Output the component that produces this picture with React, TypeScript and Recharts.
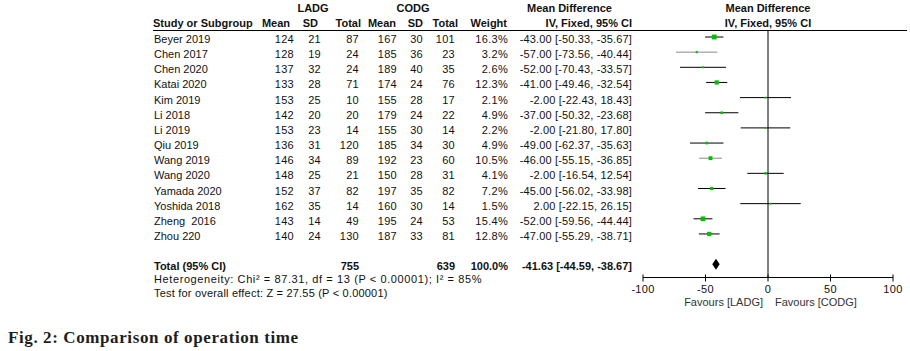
import React from "react";
import { ComposedChart, Scatter, XAxis, YAxis, ReferenceLine, ErrorBar } from "recharts";

// study rows
const studies = [
  "Beyer 2019", "Chen 2017", "Chen 2020", "Katai 2020", "Kim 2019", "Li 2018", "Li 2019",
  "Qiu 2019", "Wang 2019", "Wang 2020", "Yamada 2020", "Yoshida 2018", "Zheng  2016", "Zhou 220",
];
const ladgMean = [124, 128, 137, 133, 153, 142, 153, 136, 146, 148, 152, 162, 143, 140];
const ladgSd = [21, 19, 32, 28, 25, 20, 23, 31, 34, 25, 37, 35, 14, 24];
const ladgTotal = [87, 24, 24, 71, 10, 20, 14, 120, 89, 21, 82, 14, 49, 130];
const codgMean = [167, 185, 189, 174, 155, 179, 155, 185, 192, 150, 197, 160, 195, 187];
const codgSd = [30, 36, 40, 24, 28, 24, 30, 34, 23, 28, 35, 30, 24, 33];
const codgTotal = [101, 23, 35, 76, 17, 22, 14, 30, 60, 31, 82, 14, 53, 81];
const weights = [16.3, 3.2, 2.6, 12.3, 2.1, 4.9, 2.2, 4.9, 10.5, 4.1, 7.2, 1.5, 15.4, 12.8];
const meanDiff = [-43, -57, -52, -41, -2, -37, -2, -49, -46, -2, -45, 2, -52, -47];
const ciLow = [-50.33, -73.56, -70.43, -49.46, -22.43, -50.32, -21.8, -62.37, -55.15, -16.54, -56.02, -22.15, -59.56, -55.29];
const ciHigh = [-35.67, -40.44, -33.57, -32.54, 18.43, -23.68, 17.8, -35.63, -36.85, 12.54, -33.98, 26.15, -44.44, -38.71];
const greyRows = ["Chen 2017", "Wang 2019"];

const totalLadg = 755;
const totalCodg = 639;
const totalWeight = 100;
const totalMd = -41.63;
const totalLow = -44.59;
const totalHigh = -38.67;

const xTicks = [-100, -50, 0, 50, 100];

// layout
const W = 910;
const H = 351;
const PLOT_TOP = 30.5;
const PLOT_BOTTOM = 277.5;
const ROW0 = 37;
const ROW_H = 15.15;
const TOTAL_ROW = 15;
const yMin = -(ROW0 - PLOT_TOP) / ROW_H;
const yMax = yMin + (PLOT_BOTTOM - PLOT_TOP) / ROW_H;

const FONT = "'Liberation Sans', Arial, sans-serif";
const GREEN = "#00c000";

const rows = studies.map((name, i) => ({
  name,
  x: meanDiff[i],
  y: i,
  weight: weights[i],
  err: [meanDiff[i] - ciLow[i], ciHigh[i] - meanDiff[i]],
}));
const blackRows = rows.filter((r) => !greyRows.includes(r.name));
const lightRows = rows.filter((r) => greyRows.includes(r.name));

const DIAMOND_H = 0.36;
const diamond = [
  { x: totalLow, y: TOTAL_ROW },
  { x: totalMd, y: TOTAL_ROW - DIAMOND_H },
  { x: totalHigh, y: TOTAL_ROW },
  { x: totalMd, y: TOTAL_ROW + DIAMOND_H },
];

const Square = (props: any) => {
  const { cx, cy, payload } = props;
  const s = Math.max(1.8, Math.sqrt(payload.weight) * 1.2);
  return <rect x={cx - s / 2} y={cy - s / 2} width={s} height={s} fill={GREEN} />;
};

const Nothing = () => <g />;

const DiamondShape = (props: any) => {
  const pts = (props.points || []).map((p: any) => `${p.x},${p.y}`).join(" ");
  return <polygon points={pts} fill="#000" stroke="none" />;
};

const AxisTick = (props: any) => {
  const { x, y, payload } = props;
  return (
    <g>
      <line x1={x} x2={x} y1={y - 3} y2={y + 4} stroke="#000" />
      <text x={x} y={y + 15.5} textAnchor="middle" fontSize={11} fontFamily={FONT} fill="#111" letterSpacing={0.3}>
        {payload.value}
      </text>
    </g>
  );
};

const fmt = (v: number) => v.toFixed(2);
const ciText = (m: number, lo: number, hi: number) => `${fmt(m)} [${fmt(lo)}, ${fmt(hi)}]`;

function T(props: {
  x: number;
  y: number;
  anchor?: "start" | "middle" | "end";
  bold?: boolean;
  ls?: number;
  fill?: string;
  children: React.ReactNode;
}) {
  return (
    <text
      x={props.x}
      y={props.y}
      textAnchor={props.anchor || "start"}
      fontWeight={props.bold ? "bold" : "normal"}
      fill={props.fill || "#111"}
      letterSpacing={props.ls || 0}
      style={{ whiteSpace: "pre" }}
    >
      {props.children}
    </text>
  );
}

export default function App() {
  const base = (i: number) => ROW0 + ROW_H * i + 6;
  const totalY = base(TOTAL_ROW);
  return (
    <div style={{ position: "absolute", left: 0, top: 0, width: W, height: H, background: "#fff" }}>
      <div style={{ position: "absolute", left: 0, top: 0 }}>
        <ComposedChart width={W} height={H} margin={{ top: PLOT_TOP, right: 17, bottom: H - PLOT_BOTTOM - 30, left: 643 }}>
          <XAxis
            type="number"
            dataKey="x"
            domain={[-100, 100]}
            ticks={xTicks}
            allowDataOverflow
            height={30}
            tickSize={0}
            tickMargin={0}
            tickLine={false}
            axisLine={{ stroke: "#000" }}
            tick={<AxisTick />}
            interval={0}
          />
          <YAxis type="number" dataKey="y" domain={[yMin, yMax]} reversed hide allowDataOverflow />
          <ReferenceLine x={0} stroke="#000" />
          <Scatter data={blackRows} shape={<Nothing />} isAnimationActive={false}>
            <ErrorBar dataKey="err" direction="x" width={0} stroke="#000" strokeWidth={1} isAnimationActive={false} />
          </Scatter>
          <Scatter data={lightRows} shape={<Nothing />} isAnimationActive={false}>
            <ErrorBar dataKey="err" direction="x" width={0} stroke="#8a8a8a" strokeWidth={1} isAnimationActive={false} />
          </Scatter>
          <Scatter data={rows} shape={<Square />} isAnimationActive={false} />
          <Scatter data={diamond} shape={<Nothing />} line={DiamondShape} isAnimationActive={false} />
        </ComposedChart>
      </div>
      <svg
        width={W}
        height={H}
        style={{ position: "absolute", left: 0, top: 0, pointerEvents: "none" }}
        fontFamily={FONT}
        fontSize={11}
      >
        {/* header */}
        <T x={313} y={11.5} anchor="middle" bold>LADG</T>
        <T x={413} y={11.5} anchor="middle" bold>CODG</T>
        <T x={527} y={11.5} bold>Mean Difference</T>
        <T x={768} y={11.5} anchor="middle" bold>Mean Difference</T>
        <T x={153} y={26.5} bold>Study or Subgroup</T>
        <T x={290} y={26.5} anchor="end" bold>Mean</T>
        <T x={318} y={26.5} anchor="end" bold>SD</T>
        <T x={361} y={26.5} anchor="end" bold>Total</T>
        <T x={396} y={26.5} anchor="end" bold>Mean</T>
        <T x={423} y={26.5} anchor="end" bold>SD</T>
        <T x={458} y={26.5} anchor="end" bold>Total</T>
        <T x={507} y={26.5} anchor="end" bold>Weight</T>
        <T x={632} y={26.5} anchor="end" bold>IV, Fixed, 95% CI</T>
        <T x={768} y={26.5} anchor="middle" bold>IV, Fixed, 95% CI</T>
        <line x1={153} x2={907} y1={30.5} y2={30.5} stroke="#000" />

        {studies.map((s, i) => (
          <g key={s}>
            <T x={154} y={base(i)}>{s}</T>
            <T x={294} y={base(i)} anchor="end" ls={0.3}>{ladgMean[i]}</T>
            <T x={321} y={base(i)} anchor="end" ls={0.3}>{ladgSd[i]}</T>
            <T x={359} y={base(i)} anchor="end" ls={0.3}>{ladgTotal[i]}</T>
            <T x={397} y={base(i)} anchor="end" ls={0.3}>{codgMean[i]}</T>
            <T x={423} y={base(i)} anchor="end" ls={0.3}>{codgSd[i]}</T>
            <T x={455} y={base(i)} anchor="end" ls={0.3}>{codgTotal[i]}</T>
            <T x={508} y={base(i)} anchor="end" ls={0.3}>{weights[i].toFixed(1)}%</T>
            <T x={632} y={base(i)} anchor="end" ls={0.15}>{ciText(meanDiff[i], ciLow[i], ciHigh[i])}</T>
          </g>
        ))}

        <T x={154} y={totalY} bold>Total (95% CI)</T>
        <T x={359} y={totalY} anchor="end" bold>{totalLadg}</T>
        <T x={455} y={totalY} anchor="end" bold>{totalCodg}</T>
        <T x={508} y={totalY} anchor="end" bold>{totalWeight.toFixed(1)}%</T>
        <T x={632} y={totalY} anchor="end" bold>{ciText(totalMd, totalLow, totalHigh)}</T>
        <T x={154} y={283} ls={0.6}>Heterogeneity: Chi² = 87.31, df = 13 (P &lt; 0.00001); I² = 85%</T>
        <T x={154} y={296.5} ls={0.2}>Test for overall effect: Z = 27.55 (P &lt; 0.00001)</T>

        <T x={763} y={306} anchor="end" fill="#333">Favours [LADG]</T>
        <T x={775} y={306} fill="#333">Favours [CODG]</T>

        <text
          x={8}
          y={342.5}
          fontFamily="'Liberation Serif', 'Times New Roman', serif"
          fontSize={17}
          fontWeight="bold"
          fill="#1e1e1e"
          letterSpacing={0.6}
        >
          Fig. 2: Comparison of operation time
        </text>
      </svg>
    </div>
  );
}
